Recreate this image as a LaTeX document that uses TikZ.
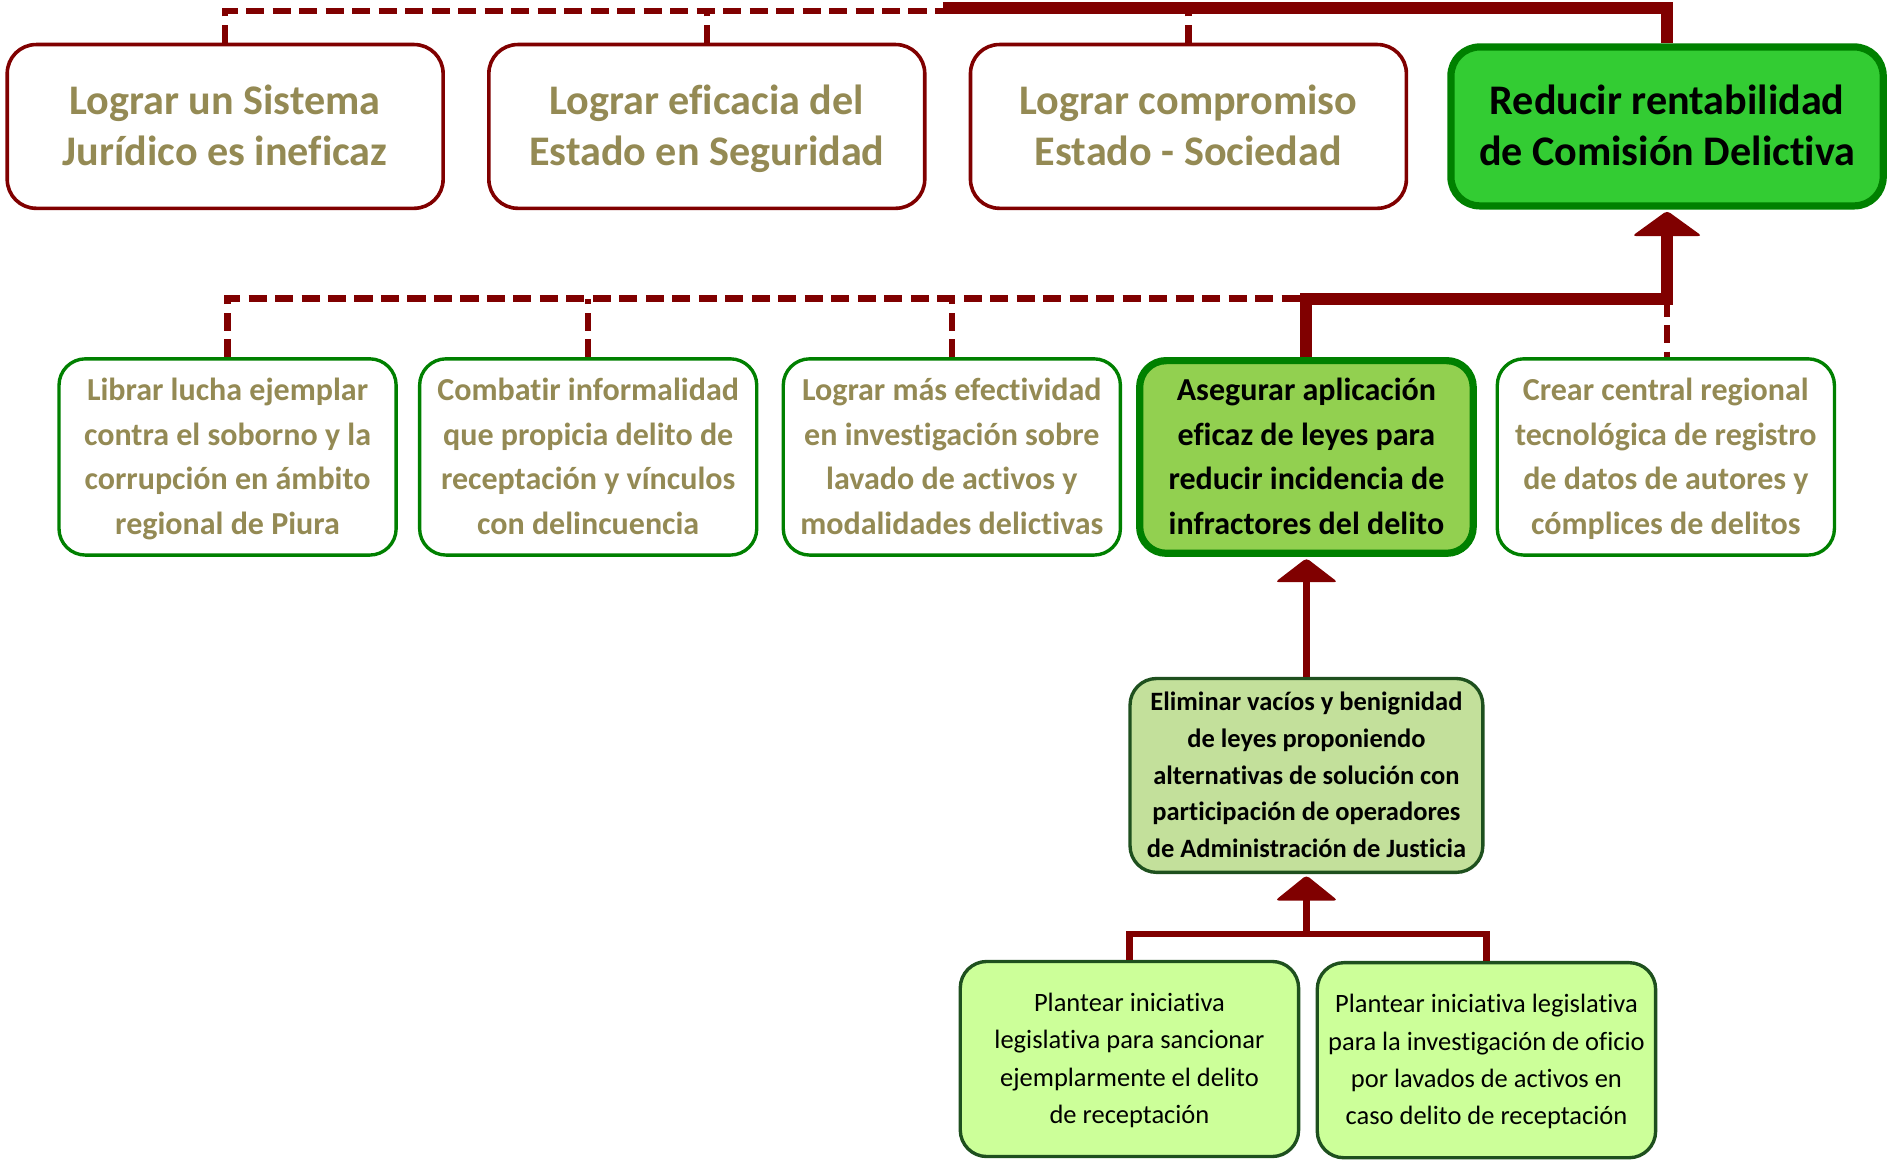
\documentclass[tikz,border=0pt]{standalone}
\usepackage{fontspec}
\setmainfont{Carlito}[Ligatures=NoCommon]
\usetikzlibrary{calc}
\definecolor{dred}{HTML}{800000}
\definecolor{txtolive}{HTML}{948A54}
\definecolor{gborder}{HTML}{008000}
\definecolor{gbright}{HTML}{33CC33}
\definecolor{glime}{HTML}{92D050}
\definecolor{gpale}{HTML}{C3E09B}
\definecolor{gpaler}{HTML}{CCFF99}
\definecolor{gdark}{HTML}{1E501E}
\newcommand\TS{\rule{0pt}{0.95em}}
\newcommand\BS{\rule[-0.3em]{0pt}{0.3em}}
\begin{document}
\begin{tikzpicture}[x=0.5pt,y=-0.5pt,
  box/.style={rectangle, align=center, inner sep=0pt},
  goal/.style={box, rounded corners=12pt, draw=dred, line width=1.5pt, fill=white,
    minimum width=181pt, minimum height=68pt, text=txtolive,
    font=\fontsize{17.5}{21}\selectfont\bfseries},
  goalmain/.style={goal, draw=gborder, line width=3pt, fill=gbright, text=black,
    minimum width=179.5pt, minimum height=66pt},
  obj/.style={box, rounded corners=11pt, draw=gborder, line width=1.4pt, fill=white,
    minimum width=140pt, minimum height=81.5pt, text=txtolive,
    font=\fontsize{13.3}{18.5}\selectfont\bfseries},
  objmain/.style={obj, line width=3pt, fill=glime, text=black,
    minimum width=138.5pt, minimum height=80pt},
  elim/.style={box, rounded corners=11pt, draw=gdark, line width=1.4pt, fill=gpale,
    minimum width=146.5pt, minimum height=80.5pt, text=black,
    font=\fontsize{11}{15.25}\selectfont\bfseries},
  plan/.style={box, rounded corners=11pt, draw=gdark, line width=1.4pt, fill=gpaler,
    minimum width=140.5pt, minimum height=81pt, text=black,
    font=\fontsize{11}{15.5}\selectfont},
  dcon/.style={draw=dred, line width=2.6pt, dash pattern=on 7.5pt off 3.5pt},
  tcon/.style={draw=dred, line width=5pt},
  ncon/.style={draw=dred, line width=2.6pt},
]
\useasboundingbox (0,0) rectangle (1568,964);

% top row
\node[goal] (B1) at (187,105) {\TS Lograr un Sistema\\Jurídico es ineficaz\BS};
\node[goal] (B2) at (587,105) {\TS Lograr eficacia del\\Estado en Seguridad\BS};
\node[goal] (B3) at (987,105) {\TS Lograr compromiso\\Estado - Sociedad\BS};
\node[goalmain] (B4) at (1384.5,105) {\TS Reducir rentabilidad\\de Comisión Delictiva\BS};

% second row
\node[obj] (C1) at (189,379.5) {\TS Librar lucha ejemplar\\contra el soborno y la\\corrupción en ámbito\\regional de Piura\BS};
\node[obj] (C2) at (488.5,379.5) {\TS Combatir informalidad\\que propicia delito de\\receptación y vínculos\\con delincuencia\BS};
\node[obj] (C3) at (790.5,379.5) {\TS Lograr más efectividad\\en investigación sobre\\lavado de activos y\\modalidades delictivas\BS};
\node[objmain] (C4) at (1085,379.5) {\TS Asegurar aplicación\\eficaz de leyes para\\reducir incidencia de\\infractores del delito\BS};
\node[obj] (C5) at (1383.5,379.5) {\TS Crear central regional\\tecnológica de registro\\de datos de autores y\\cómplices de delitos\BS};

% third level
\node[elim] (E) at (1085,644) {\TS Eliminar vacíos y benignidad\\de leyes proponiendo\\alternativas de solución con\\participación de operadores\\de Administración de Justicia\BS};

% bottom
\node[plan] (P1) at (938,879.5) {\TS Plantear iniciativa\\legislativa para sancionar\\ejemplarmente el delito\\de receptación\BS};
\node[plan] (P2) at (1234.5,880.5) {\TS Plantear iniciativa legislativa\\para la investigación de oficio\\por lavados de activos en\\caso delito de receptación\BS};

% top connectors
\coordinate (tj) at (785,9);
\coordinate (tk) at (783,7);
\draw[dcon] (B1.north) |- (tj);
\draw[dcon] (B2.north) -- (B2.north |- tj);
\draw[dcon] (B3.north) -- (B3.north |- tj);
\draw[tcon] (tk) -| (B4.north);

% second level connectors
\path (B4.south) ++(0,74) coordinate (mj);
\draw[dcon] (C1.north) |- (C4.north |- mj);
\draw[dcon] (C2.north) -- (C2.north |- mj);
\draw[dcon] (C3.north) -- (C3.north |- mj);
\draw[dcon] (mj) -- (mj |- C5.north);
\draw[tcon] (C4.north) |- (mj) -- ([yshift=-9pt]B4.south);
\fill[dred, rounded corners=1.5pt] ([yshift=-0.5pt]B4.south) -- ++(29,21) -- ++(-58,0) -- cycle;

% lower connectors
\draw[ncon] (E.north) -- ([yshift=-9pt]C4.south);
\fill[dred, rounded corners=1.5pt] ([yshift=-0.5pt]C4.south) -- ++(26,20) -- ++(-52,0) -- cycle;
\path (E.south) ++(0,50) coordinate (bj);
\draw[ncon] (P1.north) |- (bj) -| (P2.north);
\draw[ncon] (bj) -- ([yshift=-9pt]E.south);
\fill[dred, rounded corners=1.5pt] ([yshift=-0.5pt]E.south) -- ++(26,21) -- ++(-52,0) -- cycle;
\end{tikzpicture}
\end{document}
